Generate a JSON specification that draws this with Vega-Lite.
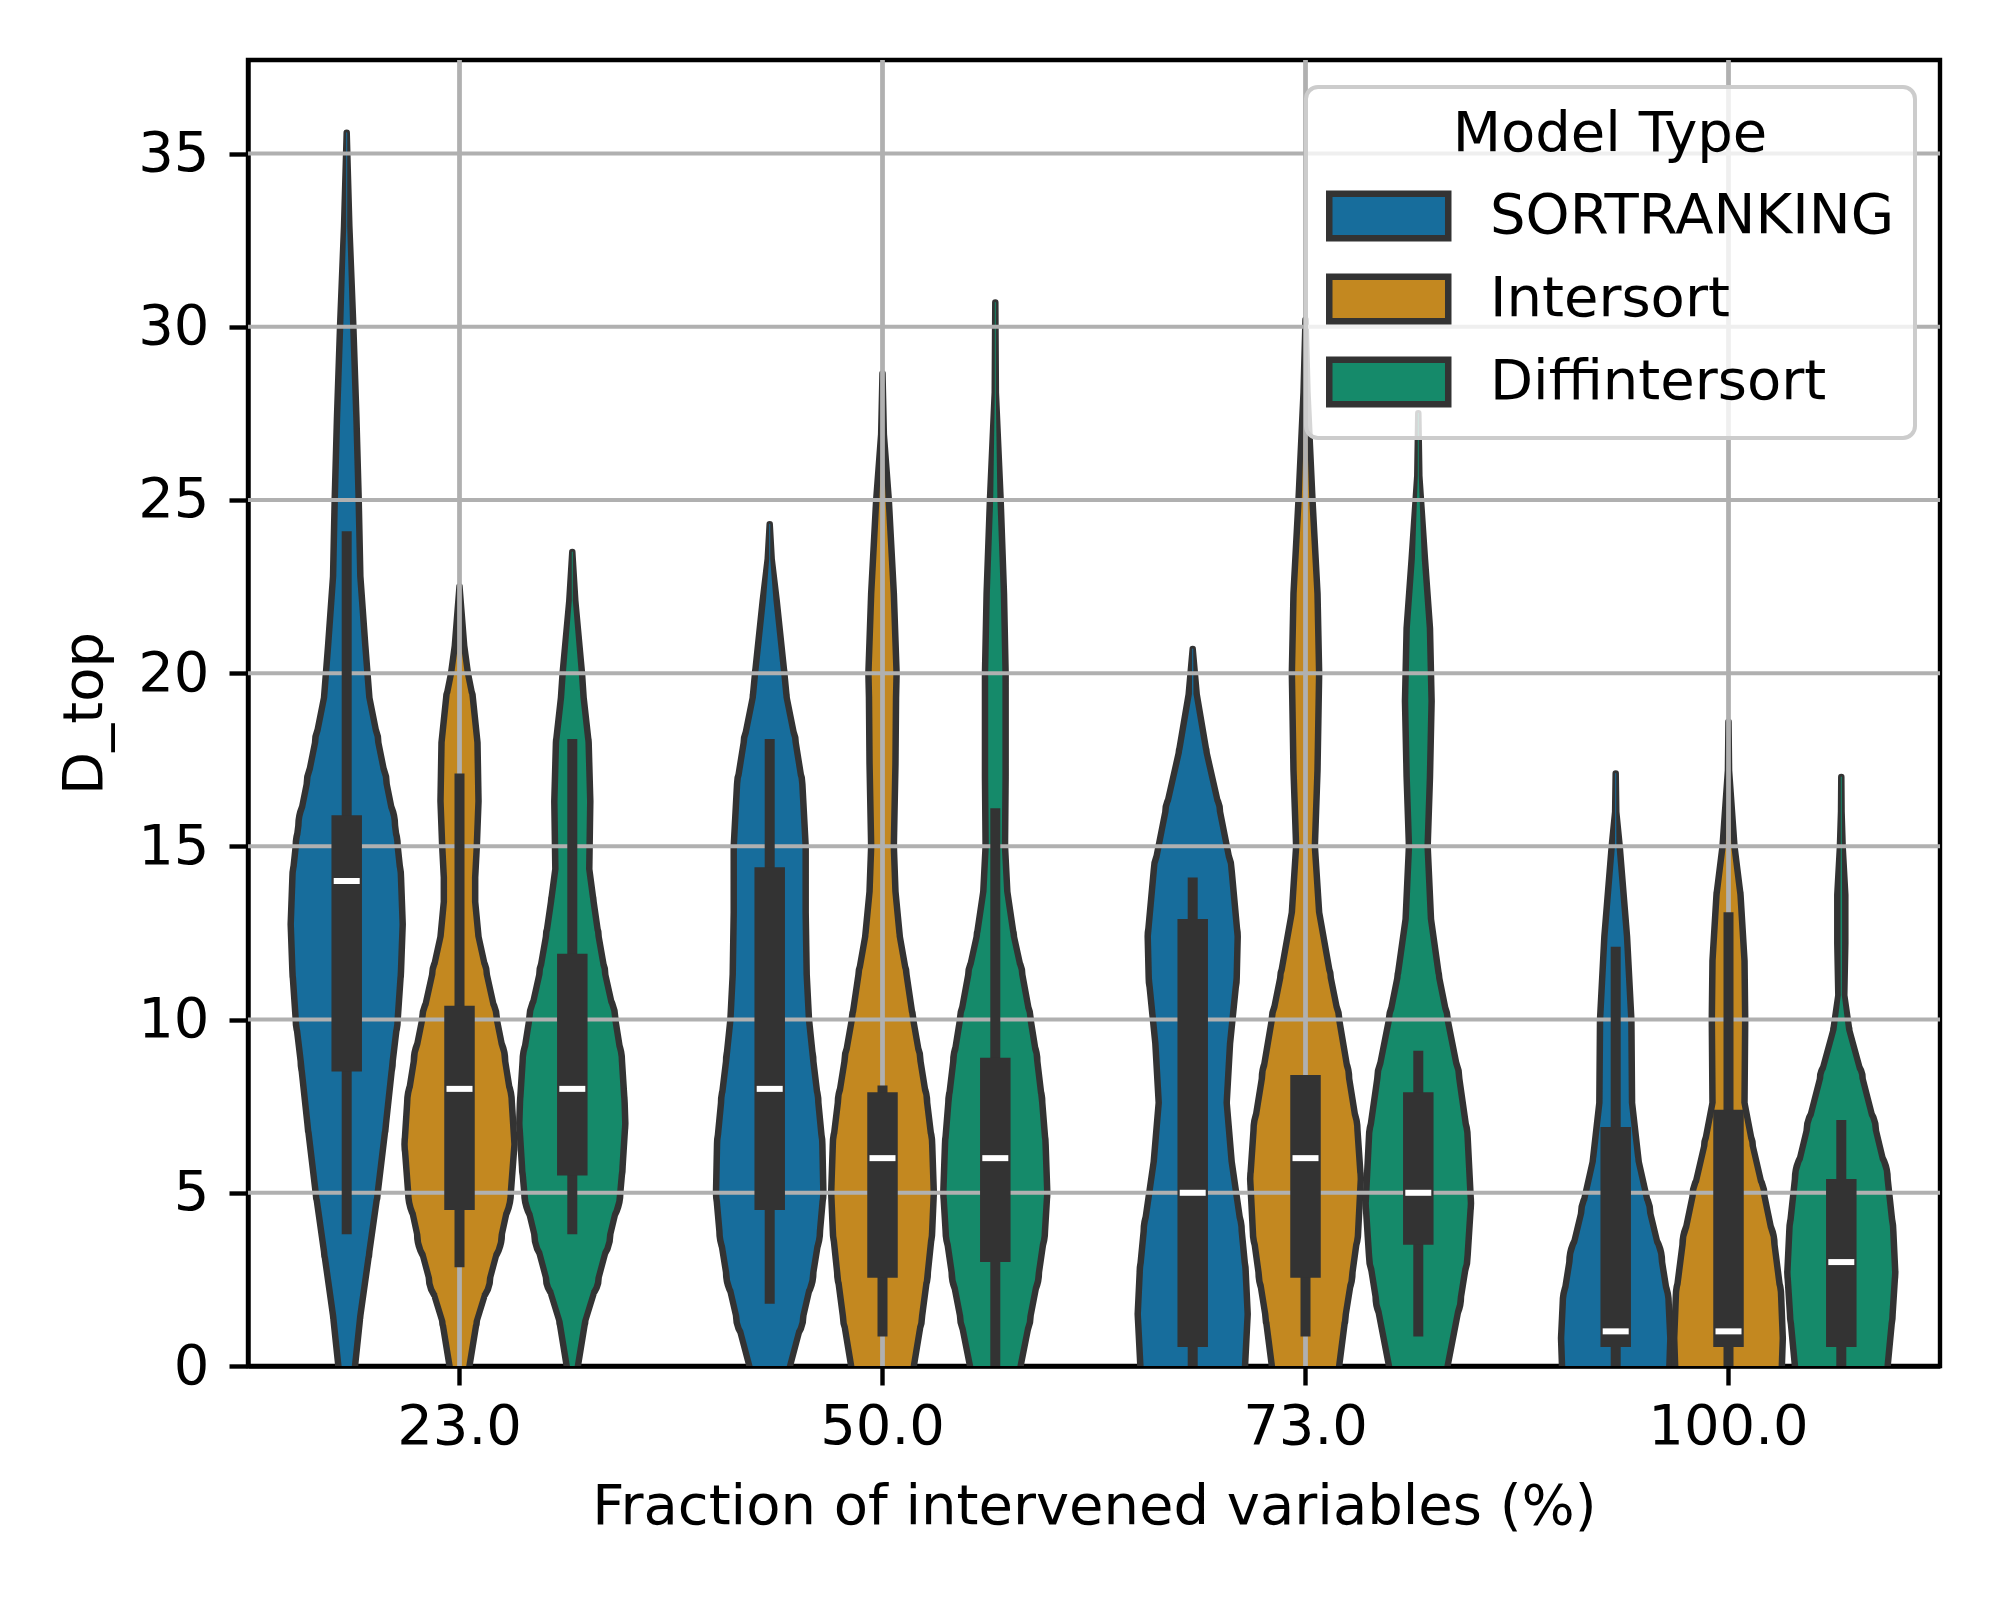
{
  "$schema": "https://vega.github.io/schema/vega-lite/v6.json",
  "width": 1692,
  "height": 1306,
  "autosize": {"type": "none"},
  "padding": {"left": 248, "top": 60, "right": 60, "bottom": 234},
  "background": "white",
  "config": {
    "font": "DejaVu Sans",
    "view": {"stroke": "black", "strokeWidth": 4.4},
    "axis": {"labelFont": "DejaVu Sans", "titleFont": "DejaVu Sans", "labelFontSize": 56, "titleFontSize": 56, "titleFontWeight": "normal", "labelColor": "black", "titleColor": "black", "tickColor": "black", "tickWidth": 4.4, "tickSize": 19, "domainColor": "black", "domainWidth": 4.4, "grid": false, "zindex": 1},
    "axisX": {"labelAngle": 0, "labelPadding": 14, "titlePadding": 25, "bandPosition": 0.5},
    "axisY": {"labelPadding": 20, "titlePadding": 24}
  },
  "datasets": {
    "dens": [
      {"f":"23.0","m":"SORTRANKING","v":35.6,"w":0},{"f":"23.0","m":"SORTRANKING","v":32.9,"w":0.047},{"f":"23.0","m":"SORTRANKING","v":30.0,"w":0.118},{"f":"23.0","m":"SORTRANKING","v":27.4,"w":0.172},{"f":"23.0","m":"SORTRANKING","v":25.0,"w":0.213},{"f":"23.0","m":"SORTRANKING","v":22.8,"w":0.242},{"f":"23.0","m":"SORTRANKING","v":20.8,"w":0.33},{"f":"23.0","m":"SORTRANKING","v":19.3,"w":0.402},{"f":"23.0","m":"SORTRANKING","v":18.0,"w":0.561},{"f":"23.0","m":"SORTRANKING","v":16.8,"w":0.709},{"f":"23.0","m":"SORTRANKING","v":15.6,"w":0.857},{"f":"23.0","m":"SORTRANKING","v":15.0,"w":0.904},{"f":"23.0","m":"SORTRANKING","v":14.1,"w":0.963},{"f":"23.0","m":"SORTRANKING","v":12.75,"w":0.993},{"f":"23.0","m":"SORTRANKING","v":11.4,"w":0.963},{"f":"23.0","m":"SORTRANKING","v":10.0,"w":0.904},{"f":"23.0","m":"SORTRANKING","v":8.8,"w":0.816},{"f":"23.0","m":"SORTRANKING","v":7.0,"w":0.697},{"f":"23.0","m":"SORTRANKING","v":5.0,"w":0.55},{"f":"23.0","m":"SORTRANKING","v":3.3,"w":0.402},{"f":"23.0","m":"SORTRANKING","v":1.45,"w":0.242},{"f":"23.0","m":"SORTRANKING","v":0,"w":0.148},
      {"f":"23.0","m":"Intersort","v":22.5,"w":0},{"f":"23.0","m":"Intersort","v":20.8,"w":0.083},{"f":"23.0","m":"Intersort","v":20.0,"w":0.15},{"f":"23.0","m":"Intersort","v":19.3,"w":0.236},{"f":"23.0","m":"Intersort","v":18.0,"w":0.319},{"f":"23.0","m":"Intersort","v":16.3,"w":0.337},{"f":"23.0","m":"Intersort","v":15.0,"w":0.307},{"f":"23.0","m":"Intersort","v":14.1,"w":0.278},{"f":"23.0","m":"Intersort","v":13.4,"w":0.278},{"f":"23.0","m":"Intersort","v":12.4,"w":0.337},{"f":"23.0","m":"Intersort","v":11.3,"w":0.485},{"f":"23.0","m":"Intersort","v":10.0,"w":0.662},{"f":"23.0","m":"Intersort","v":8.8,"w":0.81},{"f":"23.0","m":"Intersort","v":7.6,"w":0.928},{"f":"23.0","m":"Intersort","v":6.4,"w":0.975},{"f":"23.0","m":"Intersort","v":5.0,"w":0.91},{"f":"23.0","m":"Intersort","v":3.8,"w":0.751},{"f":"23.0","m":"Intersort","v":2.55,"w":0.544},{"f":"23.0","m":"Intersort","v":1.3,"w":0.307},{"f":"23.0","m":"Intersort","v":0,"w":0.177},
      {"f":"23.0","m":"Diffintersort","v":23.5,"w":0},{"f":"23.0","m":"Diffintersort","v":22.1,"w":0.053},{"f":"23.0","m":"Diffintersort","v":20.0,"w":0.172},{"f":"23.0","m":"Diffintersort","v":19.3,"w":0.201},{"f":"23.0","m":"Diffintersort","v":18.0,"w":0.29},{"f":"23.0","m":"Diffintersort","v":16.3,"w":0.319},{"f":"23.0","m":"Diffintersort","v":14.35,"w":0.301},{"f":"23.0","m":"Diffintersort","v":13.4,"w":0.378},{"f":"23.0","m":"Diffintersort","v":12.4,"w":0.467},{"f":"23.0","m":"Diffintersort","v":11.3,"w":0.585},{"f":"23.0","m":"Diffintersort","v":10.0,"w":0.763},{"f":"23.0","m":"Diffintersort","v":8.8,"w":0.881},{"f":"23.0","m":"Diffintersort","v":7.6,"w":0.928},{"f":"23.0","m":"Diffintersort","v":7.0,"w":0.94},{"f":"23.0","m":"Diffintersort","v":5.75,"w":0.892},{"f":"23.0","m":"Diffintersort","v":5.0,"w":0.851},{"f":"23.0","m":"Diffintersort","v":3.8,"w":0.674},{"f":"23.0","m":"Diffintersort","v":2.55,"w":0.467},{"f":"23.0","m":"Diffintersort","v":1.3,"w":0.23},{"f":"23.0","m":"Diffintersort","v":0,"w":0.1},
      {"f":"50.0","m":"SORTRANKING","v":24.3,"w":0},{"f":"50.0","m":"SORTRANKING","v":23.3,"w":0.035},{"f":"50.0","m":"SORTRANKING","v":22.1,"w":0.124},{"f":"50.0","m":"SORTRANKING","v":20.0,"w":0.26},{"f":"50.0","m":"SORTRANKING","v":19.3,"w":0.301},{"f":"50.0","m":"SORTRANKING","v":18.0,"w":0.461},{"f":"50.0","m":"SORTRANKING","v":16.8,"w":0.579},{"f":"50.0","m":"SORTRANKING","v":15.0,"w":0.638},{"f":"50.0","m":"SORTRANKING","v":13.1,"w":0.638},{"f":"50.0","m":"SORTRANKING","v":11.3,"w":0.656},{"f":"50.0","m":"SORTRANKING","v":10.0,"w":0.697},{"f":"50.0","m":"SORTRANKING","v":8.8,"w":0.774},{"f":"50.0","m":"SORTRANKING","v":7.6,"w":0.863},{"f":"50.0","m":"SORTRANKING","v":6.4,"w":0.934},{"f":"50.0","m":"SORTRANKING","v":5.0,"w":0.952},{"f":"50.0","m":"SORTRANKING","v":3.9,"w":0.892},{"f":"50.0","m":"SORTRANKING","v":2.7,"w":0.774},{"f":"50.0","m":"SORTRANKING","v":1.45,"w":0.597},{"f":"50.0","m":"SORTRANKING","v":0,"w":0.361},
      {"f":"50.0","m":"Intersort","v":28.65,"w":0},{"f":"50.0","m":"Intersort","v":26.9,"w":0.024},{"f":"50.0","m":"Intersort","v":25.0,"w":0.112},{"f":"50.0","m":"Intersort","v":22.3,"w":0.201},{"f":"50.0","m":"Intersort","v":20.0,"w":0.25},{"f":"50.0","m":"Intersort","v":19.3,"w":0.24},{"f":"50.0","m":"Intersort","v":17.4,"w":0.23},{"f":"50.0","m":"Intersort","v":15.0,"w":0.201},{"f":"50.0","m":"Intersort","v":13.7,"w":0.23},{"f":"50.0","m":"Intersort","v":12.4,"w":0.307},{"f":"50.0","m":"Intersort","v":11.3,"w":0.426},{"f":"50.0","m":"Intersort","v":10.0,"w":0.544},{"f":"50.0","m":"Intersort","v":8.8,"w":0.674},{"f":"50.0","m":"Intersort","v":7.6,"w":0.792},{"f":"50.0","m":"Intersort","v":6.4,"w":0.881},{"f":"50.0","m":"Intersort","v":5.0,"w":0.91},{"f":"50.0","m":"Intersort","v":3.9,"w":0.881},{"f":"50.0","m":"Intersort","v":2.7,"w":0.804},{"f":"50.0","m":"Intersort","v":1.45,"w":0.703},{"f":"50.0","m":"Intersort","v":0,"w":0.556},
      {"f":"50.0","m":"Diffintersort","v":30.7,"w":0},{"f":"50.0","m":"Diffintersort","v":28.1,"w":0.01},{"f":"50.0","m":"Diffintersort","v":25.0,"w":0.095},{"f":"50.0","m":"Diffintersort","v":22.3,"w":0.154},{"f":"50.0","m":"Diffintersort","v":20.0,"w":0.183},{"f":"50.0","m":"Diffintersort","v":17.0,"w":0.183},{"f":"50.0","m":"Diffintersort","v":15.0,"w":0.172},{"f":"50.0","m":"Diffintersort","v":13.7,"w":0.213},{"f":"50.0","m":"Diffintersort","v":12.4,"w":0.331},{"f":"50.0","m":"Diffintersort","v":11.3,"w":0.479},{"f":"50.0","m":"Diffintersort","v":10.0,"w":0.626},{"f":"50.0","m":"Diffintersort","v":8.8,"w":0.745},{"f":"50.0","m":"Diffintersort","v":7.6,"w":0.833},{"f":"50.0","m":"Diffintersort","v":6.4,"w":0.892},{"f":"50.0","m":"Diffintersort","v":5.0,"w":0.922},{"f":"50.0","m":"Diffintersort","v":3.9,"w":0.881},{"f":"50.0","m":"Diffintersort","v":2.7,"w":0.774},{"f":"50.0","m":"Diffintersort","v":1.45,"w":0.626},{"f":"50.0","m":"Diffintersort","v":0,"w":0.449},
      {"f":"73.0","m":"SORTRANKING","v":20.7,"w":0},{"f":"73.0","m":"SORTRANKING","v":19.4,"w":0.071},{"f":"73.0","m":"SORTRANKING","v":17.7,"w":0.248},{"f":"73.0","m":"SORTRANKING","v":16.0,"w":0.485},{"f":"73.0","m":"SORTRANKING","v":14.3,"w":0.691},{"f":"73.0","m":"SORTRANKING","v":12.4,"w":0.798},{"f":"73.0","m":"SORTRANKING","v":11.2,"w":0.78},{"f":"73.0","m":"SORTRANKING","v":9.3,"w":0.662},{"f":"73.0","m":"SORTRANKING","v":7.6,"w":0.603},{"f":"73.0","m":"SORTRANKING","v":5.9,"w":0.691},{"f":"73.0","m":"SORTRANKING","v":3.9,"w":0.869},{"f":"73.0","m":"SORTRANKING","v":2.7,"w":0.94},{"f":"73.0","m":"SORTRANKING","v":1.5,"w":0.975},{"f":"73.0","m":"SORTRANKING","v":0,"w":0.928},
      {"f":"73.0","m":"Intersort","v":30.2,"w":0},{"f":"73.0","m":"Intersort","v":28.1,"w":0.035},{"f":"73.0","m":"Intersort","v":25.0,"w":0.124},{"f":"73.0","m":"Intersort","v":22.3,"w":0.213},{"f":"73.0","m":"Intersort","v":20.0,"w":0.242},{"f":"73.0","m":"Intersort","v":17.2,"w":0.213},{"f":"73.0","m":"Intersort","v":15.0,"w":0.166},{"f":"73.0","m":"Intersort","v":13.1,"w":0.242},{"f":"73.0","m":"Intersort","v":11.2,"w":0.449},{"f":"73.0","m":"Intersort","v":10.0,"w":0.597},{"f":"73.0","m":"Intersort","v":8.3,"w":0.774},{"f":"73.0","m":"Intersort","v":6.8,"w":0.922},{"f":"73.0","m":"Intersort","v":5.4,"w":0.981},{"f":"73.0","m":"Intersort","v":3.9,"w":0.934},{"f":"73.0","m":"Intersort","v":2.7,"w":0.833},{"f":"73.0","m":"Intersort","v":1.5,"w":0.715},{"f":"73.0","m":"Intersort","v":0,"w":0.597},
      {"f":"73.0","m":"Diffintersort","v":27.5,"w":0},{"f":"73.0","m":"Diffintersort","v":25.7,"w":0.018},{"f":"73.0","m":"Diffintersort","v":23.3,"w":0.118},{"f":"73.0","m":"Diffintersort","v":21.3,"w":0.207},{"f":"73.0","m":"Diffintersort","v":19.2,"w":0.236},{"f":"73.0","m":"Diffintersort","v":17.0,"w":0.207},{"f":"73.0","m":"Diffintersort","v":15.0,"w":0.166},{"f":"73.0","m":"Diffintersort","v":12.9,"w":0.225},{"f":"73.0","m":"Diffintersort","v":11.2,"w":0.372},{"f":"73.0","m":"Diffintersort","v":10.0,"w":0.52},{"f":"73.0","m":"Diffintersort","v":8.3,"w":0.727},{"f":"73.0","m":"Diffintersort","v":6.6,"w":0.875},{"f":"73.0","m":"Diffintersort","v":4.7,"w":0.934},{"f":"73.0","m":"Diffintersort","v":3.2,"w":0.875},{"f":"73.0","m":"Diffintersort","v":2.0,"w":0.757},{"f":"73.0","m":"Diffintersort","v":0,"w":0.52},
      {"f":"100.0","m":"SORTRANKING","v":17.1,"w":0},{"f":"100.0","m":"SORTRANKING","v":16.0,"w":0.01},{"f":"100.0","m":"SORTRANKING","v":15.0,"w":0.071},{"f":"100.0","m":"SORTRANKING","v":12.4,"w":0.201},{"f":"100.0","m":"SORTRANKING","v":10.0,"w":0.278},{"f":"100.0","m":"SORTRANKING","v":7.6,"w":0.29},{"f":"100.0","m":"SORTRANKING","v":5.9,"w":0.408},{"f":"100.0","m":"SORTRANKING","v":4.4,"w":0.615},{"f":"100.0","m":"SORTRANKING","v":3.0,"w":0.822},{"f":"100.0","m":"SORTRANKING","v":1.8,"w":0.94},{"f":"100.0","m":"SORTRANKING","v":0.8,"w":0.969},{"f":"100.0","m":"SORTRANKING","v":0,"w":0.952},
      {"f":"100.0","m":"Intersort","v":18.6,"w":0},{"f":"100.0","m":"Intersort","v":17.2,"w":0.01},{"f":"100.0","m":"Intersort","v":15.0,"w":0.106},{"f":"100.0","m":"Intersort","v":13.6,"w":0.213},{"f":"100.0","m":"Intersort","v":11.7,"w":0.284},{"f":"100.0","m":"Intersort","v":10.0,"w":0.296},{"f":"100.0","m":"Intersort","v":7.6,"w":0.284},{"f":"100.0","m":"Intersort","v":6.35,"w":0.431},{"f":"100.0","m":"Intersort","v":4.9,"w":0.638},{"f":"100.0","m":"Intersort","v":3.5,"w":0.816},{"f":"100.0","m":"Intersort","v":2.0,"w":0.934},{"f":"100.0","m":"Intersort","v":0.8,"w":0.963},{"f":"100.0","m":"Intersort","v":0,"w":0.946},
      {"f":"100.0","m":"Diffintersort","v":17.0,"w":0},{"f":"100.0","m":"Diffintersort","v":16.0,"w":0.005},{"f":"100.0","m":"Diffintersort","v":15.0,"w":0.024},{"f":"100.0","m":"Diffintersort","v":13.6,"w":0.071},{"f":"100.0","m":"Diffintersort","v":12.2,"w":0.071},{"f":"100.0","m":"Diffintersort","v":10.7,"w":0.053},{"f":"100.0","m":"Diffintersort","v":9.7,"w":0.142},{"f":"100.0","m":"Diffintersort","v":8.3,"w":0.378},{"f":"100.0","m":"Diffintersort","v":6.8,"w":0.615},{"f":"100.0","m":"Diffintersort","v":5.4,"w":0.822},{"f":"100.0","m":"Diffintersort","v":3.9,"w":0.922},{"f":"100.0","m":"Diffintersort","v":2.7,"w":0.957},{"f":"100.0","m":"Diffintersort","v":1.5,"w":0.91},{"f":"100.0","m":"Diffintersort","v":0,"w":0.822}
    ],
    "stats": [
      {"f":"23.0","m":"SORTRANKING","wlo":3.8,"q1":8.5,"med":14.0,"q3":15.9,"whi":24.1},
      {"f":"23.0","m":"Intersort","wlo":2.85,"q1":4.5,"med":8.0,"q3":10.4,"whi":17.1},
      {"f":"23.0","m":"Diffintersort","wlo":3.8,"q1":5.5,"med":8.0,"q3":11.9,"whi":18.1},
      {"f":"50.0","m":"SORTRANKING","wlo":1.8,"q1":4.5,"med":8.0,"q3":14.4,"whi":18.1},
      {"f":"50.0","m":"Intersort","wlo":0.85,"q1":2.55,"med":6.0,"q3":7.9,"whi":8.1},
      {"f":"50.0","m":"Diffintersort","wlo":0,"q1":3.0,"med":6.0,"q3":8.9,"whi":16.1},
      {"f":"73.0","m":"SORTRANKING","wlo":0,"q1":0.55,"med":5.0,"q3":12.9,"whi":14.1},
      {"f":"73.0","m":"Intersort","wlo":0.85,"q1":2.55,"med":6.0,"q3":8.4,"whi":8.4},
      {"f":"73.0","m":"Diffintersort","wlo":0.85,"q1":3.5,"med":5.0,"q3":7.9,"whi":9.1},
      {"f":"100.0","m":"SORTRANKING","wlo":0,"q1":0.55,"med":1.0,"q3":6.9,"whi":12.1},
      {"f":"100.0","m":"Intersort","wlo":0,"q1":0.55,"med":1.0,"q3":7.4,"whi":13.1},
      {"f":"100.0","m":"Diffintersort","wlo":0,"q1":0.55,"med":3.0,"q3":5.4,"whi":7.1}
    ],
    "grid": [{"g":5},{"g":10},{"g":15},{"g":20},{"g":25},{"g":30},{"g":35}]
  },
  "layer": [
    {
      "data": {"name": "dens"},
      "mark": {"type": "trail", "color": "#333333", "clip": true},
      "encoding": {
        "x": {"field": "f", "type": "nominal", "title": "Fraction of intervened variables (%)", "scale": {"domain": ["23.0","50.0","73.0","100.0"], "paddingInner": 0, "paddingOuter": 0}},
        "xOffset": {"field": "m", "type": "nominal", "scale": {"domain": ["SORTRANKING","Intersort","Diffintersort"], "paddingInner": 0, "paddingOuter": 0.375}},
        "y": {"field": "v", "type": "quantitative", "title": "D_top", "scale": {"domain": [0, 37.7], "nice": false, "zero": false}, "axis": {"values": [0,5,10,15,20,25,30,35]}},
        "size": {"field": "w", "type": "quantitative", "scale": {"domain": [0, 1], "range": [6.5, 119.3]}, "legend": null},
        "detail": [{"field": "f", "type": "nominal"}, {"field": "m", "type": "nominal"}],
        "order": {"field": "v", "type": "quantitative"}
      }
    },
    {
      "data": {"name": "dens"},
      "mark": {"type": "trail", "clip": true, "opacity": 1, "stroke": "#333333", "strokeWidth": 0},
      "encoding": {
        "x": {"field": "f", "type": "nominal", "title": "Fraction of intervened variables (%)"},
        "xOffset": {"field": "m", "type": "nominal"},
        "y": {"field": "v", "type": "quantitative", "title": "D_top"},
        "size": {"field": "w", "type": "quantitative", "scale": {"domain": [0, 0.0576, 1], "range": [0, 0, 106.3]}, "legend": null},
        "fill": {"field": "m", "type": "nominal", "scale": {"domain": ["SORTRANKING","Intersort","Diffintersort"], "range": ["#176d9c","#c38820","#158a6a"]},
          "legend": {"title": "Model Type", "orient": "none", "legendX": 1058, "legendY": 27,
            "titleFontSize": 56, "titleFontWeight": "normal", "titleFont": "DejaVu Sans", "titleColor": "black", "titleAnchor": "middle", "titlePadding": 20, "titleLimit": 2000,
            "labelFontSize": 56, "labelFont": "DejaVu Sans", "labelColor": "black", "labelOffset": 98, "labelLimit": 2000,
            "symbolType": "M-1,-0.75H3V0.75H-1Z", "symbolSize": 3540, "symbolStrokeColor": "#333333", "symbolStrokeWidth": 6, "symbolOpacity": 1,
            "rowPadding": 11, "padding": 20, "strokeColor": "#cccccc", "fillColor": "rgba(255,255,255,0.8)", "cornerRadius": 12,
            "encode": {
              "legend": {"update": {"strokeWidth": {"value": 4}}},
              "symbols": {"update": {"stroke": {"value": "#333333"}, "strokeWidth": {"value": 6.5}, "strokeOpacity": {"value": 1}, "fillOpacity": {"value": 1}, "opacity": {"value": 1}}}
            }}},
        "detail": [{"field": "f", "type": "nominal"}, {"field": "m", "type": "nominal"}],
        "order": {"field": "v", "type": "quantitative"}
      }
    },
    {
      "data": {"name": "grid"},
      "mark": {"type": "rule", "color": "#b0b0b0", "strokeWidth": 4},
      "encoding": {"y": {"field": "g", "type": "quantitative", "title": "D_top"}}
    },
    {
      "data": {"name": "stats"},
      "mark": {"type": "rule", "color": "#b0b0b0", "strokeWidth": 4},
      "encoding": {"x": {"field": "f", "type": "nominal", "title": "Fraction of intervened variables (%)"}}
    },
    {
      "data": {"name": "stats"},
      "mark": {"type": "rule", "color": "#333333", "strokeWidth": 10, "clip": true},
      "encoding": {
        "x": {"field": "f", "type": "nominal", "title": "Fraction of intervened variables (%)"},
        "xOffset": {"field": "m", "type": "nominal"},
        "y": {"field": "wlo", "type": "quantitative", "title": "D_top"},
        "y2": {"field": "whi"}
      }
    },
    {
      "data": {"name": "stats"},
      "mark": {"type": "rule", "color": "#333333", "strokeWidth": 30.5, "clip": true},
      "encoding": {
        "x": {"field": "f", "type": "nominal", "title": "Fraction of intervened variables (%)"},
        "xOffset": {"field": "m", "type": "nominal"},
        "y": {"field": "q1", "type": "quantitative", "title": "D_top"},
        "y2": {"field": "q3"}
      }
    },
    {
      "data": {"name": "stats"},
      "mark": {"type": "tick", "color": "white", "thickness": 6, "size": 26, "orient": "horizontal", "opacity": 1},
      "encoding": {
        "x": {"field": "f", "type": "nominal", "title": "Fraction of intervened variables (%)"},
        "xOffset": {"field": "m", "type": "nominal"},
        "y": {"field": "med", "type": "quantitative", "title": "D_top"}
      }
    }
  ],
  "resolve": {"scale": {"size": "independent"}}
}
